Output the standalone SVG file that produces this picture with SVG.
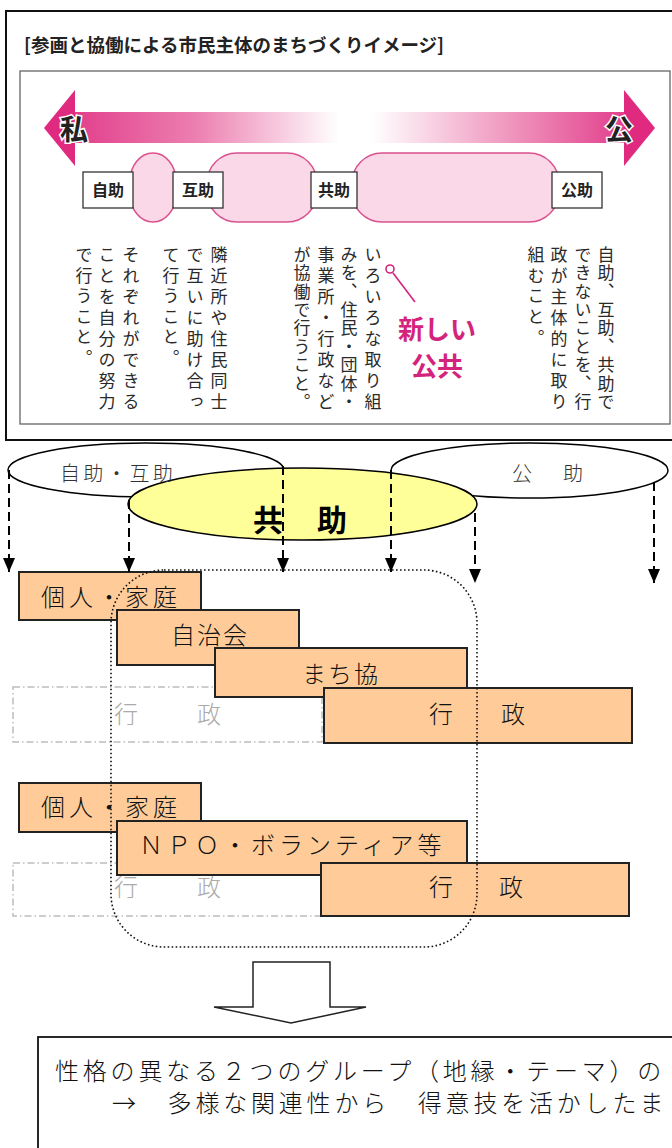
<svg xmlns="http://www.w3.org/2000/svg" width="672" height="1148" viewBox="0 0 672 1148">
<defs>
<style>
.jp{font-family:"Noto Sans CJK JP","Noto Sans CJK SC",sans-serif;}
.lbl{font-family:"Noto Sans CJK JP",sans-serif;font-weight:bold;font-size:16px;fill:#222;}
.vt{font-family:"Noto Sans CJK JP",sans-serif;font-size:17px;fill:#2a2a2a;writing-mode:vertical-rl;}
.pill{fill:#fbd8e7;stroke:#d9528e;stroke-width:1.5;}
.lb{fill:#fff;stroke:#333;stroke-width:1.3;}
.ell{fill:#fff;stroke:#000;stroke-width:1.5;}
.dash{stroke:#000;stroke-width:2;stroke-dasharray:9 5;fill:none;}
.box{fill:#ffcc99;stroke:#222;stroke-width:2;}
.ghost{fill:none;stroke:#bdbdbd;stroke-width:1.5;stroke-dasharray:7 3 1.5 3;}
.bt{font-family:"Noto Sans CJK JP",sans-serif;font-weight:300;font-size:24px;fill:#111;}
.gt{font-family:"Noto Sans CJK JP",sans-serif;font-weight:300;font-size:24px;fill:#aaa;}
</style>
<linearGradient id="bar" gradientUnits="userSpaceOnUse" x1="75" y1="0" x2="624" y2="0">
<stop offset="0" stop-color="#e2408c"/>
<stop offset="0.22" stop-color="#ec7fb0"/>
<stop offset="0.48" stop-color="#ffffff"/>
<stop offset="0.54" stop-color="#ffffff"/>
<stop offset="0.78" stop-color="#f09bc1"/>
<stop offset="1" stop-color="#e2408c"/>
</linearGradient>
<marker id="ah" viewBox="0 0 14 12" refX="14" refY="6" markerWidth="14" markerHeight="12" markerUnits="userSpaceOnUse" orient="auto">
<path d="M0,0 L14,6 L0,12 z" fill="#000"/>
</marker>
</defs>

<g id="image-panel">
<rect x="6" y="11" width="690" height="429" fill="#fff" stroke="#111" stroke-width="2"/>
<text class="jp" x="24" y="52" font-size="18.5" font-weight="bold" fill="#222">[参画と協働による市民主体のまちづくりイメージ]</text>
<rect x="20" y="71" width="650" height="353" fill="#fff" stroke="#666" stroke-width="1.3"/>
<rect x="74" y="112" width="551" height="31" fill="url(#bar)"/>
<polygon points="44,128 75,90 75,166" fill="#df2a80"/>
<polygon points="624,90 655,128 624,166" fill="#df2a80"/>
<text class="jp" x="74" y="140" font-size="28" font-weight="bold" fill="#222" stroke="#fff" stroke-width="3" paint-order="stroke" text-anchor="middle">私</text>
<text class="jp" x="619" y="140" font-size="28" font-weight="bold" fill="#222" stroke="#fff" stroke-width="3" paint-order="stroke" text-anchor="middle">公</text>
<rect class="pill" x="130" y="153" width="46" height="69" rx="23" ry="28"/>
<rect class="pill" x="207" y="153" width="110" height="69" rx="30" ry="30"/>
<rect class="pill" x="352" y="153" width="207" height="69" rx="30" ry="30"/>
<rect class="lb" x="83" y="172" width="50" height="36"/>
<text class="lbl" x="108" y="196" text-anchor="middle">自助</text>
<rect class="lb" x="173" y="172" width="50" height="36"/>
<text class="lbl" x="198" y="196" text-anchor="middle">互助</text>
<rect class="lb" x="311" y="172" width="46" height="36"/>
<text class="lbl" x="334" y="196" text-anchor="middle">共助</text>
<rect class="lb" x="552" y="172" width="50" height="36"/>
<text class="lbl" x="577" y="196" text-anchor="middle">公助</text>

<text class="vt" x="131" y="246" textLength="164" lengthAdjust="spacing">それぞれができる</text>
<text class="vt" x="107" y="246" textLength="164" lengthAdjust="spacing">ことを自分の努力</text>
<text class="vt" x="84" y="246" textLength="120" lengthAdjust="spacing">で行うこと。</text>
<text class="vt" x="219" y="246" textLength="164" lengthAdjust="spacing">隣近所や住民同士</text>
<text class="vt" x="195" y="246" textLength="164" lengthAdjust="spacing">で互いに助け合っ</text>
<text class="vt" x="171" y="246" textLength="120" lengthAdjust="spacing">て行うこと。</text>
<text class="vt" x="373" y="246" textLength="164" lengthAdjust="spacing">いろいろな取り組</text>
<text class="vt" x="349" y="246" textLength="164" lengthAdjust="spacing">みを、住民・団体・</text>
<text class="vt" x="326" y="246" textLength="164" lengthAdjust="spacing">事業所・行政など</text>
<text class="vt" x="302" y="246" textLength="164" lengthAdjust="spacing">が協働で行うこと。</text>
<text class="vt" x="606" y="246" textLength="164" lengthAdjust="spacing">自助、互助、共助で</text>
<text class="vt" x="583" y="246" textLength="164" lengthAdjust="spacing">できないことを、行</text>
<text class="vt" x="559" y="246" textLength="164" lengthAdjust="spacing">政が主体的に取り</text>
<text class="vt" x="536" y="246" textLength="100" lengthAdjust="spacing">組むこと。</text>

<line x1="393" y1="273" x2="415" y2="302" stroke="#d4237c" stroke-width="1.6"/>
<circle cx="390" cy="269" r="4" fill="#fff" stroke="#d4237c" stroke-width="1.6"/>
<text class="jp" x="437" y="339" font-size="26" font-weight="bold" fill="#d4237c" text-anchor="middle">新しい</text>
<text class="jp" x="437" y="376" font-size="26" font-weight="bold" fill="#d4237c" text-anchor="middle">公共</text>
</g>

<g id="node-jijo-gojo">
<ellipse class="ell" cx="146" cy="470" rx="138" ry="27"/>
</g>
<g id="node-kojo">
<ellipse class="ell" cx="529.5" cy="470.5" rx="138.5" ry="27.5"/>
</g>
<g id="node-kyojo">
<ellipse cx="302.5" cy="504" rx="174.5" ry="36" fill="#ffff99" stroke="#000" stroke-width="1.5"/>
</g>
<text class="jp" x="60" y="481" font-size="20" font-weight="300" fill="#333" letter-spacing="3.2">自助・互助</text>
<text class="jp" x="512" y="481" font-size="20" font-weight="300" fill="#333" letter-spacing="5.5">公　助</text>
<text class="jp" x="253" y="531" font-size="30" font-weight="bold" fill="#000" letter-spacing="2">共　助</text>

<g id="node-ghost-1">
<rect class="ghost" x="13" y="687" width="309" height="55"/>
<text class="gt" x="114" y="723" letter-spacing="17.5">行　政</text>
</g>
<g id="node-kojin-1">
<rect class="box" x="19" y="572" width="182" height="48"/>
<text class="bt" x="41" y="606" letter-spacing="4">個人・家庭</text>
</g>
<g id="node-jichikai">
<rect class="box" x="117" y="610" width="182" height="55"/>
<text class="bt" x="171" y="644" letter-spacing="2">自治会</text>
</g>
<g id="node-machikyo">
<rect class="box" x="215" y="648" width="252" height="49"/>
<text class="bt" x="302" y="683" letter-spacing="2">まち協</text>
</g>
<g id="node-gyosei-1">
<rect class="box" x="324" y="688" width="308" height="55"/>
<text class="bt" x="429" y="723" letter-spacing="12">行　政</text>
</g>

<g id="node-ghost-2">
<rect class="ghost" x="13" y="863" width="309" height="53"/>
<text class="gt" x="114" y="896" letter-spacing="17.5">行　政</text>
</g>
<g id="node-kojin-2">
<rect class="box" x="19" y="783" width="182" height="49"/>
<text class="bt" x="41" y="816" letter-spacing="4">個人・家庭</text>
</g>
<g id="node-npo">
<rect class="box" x="117" y="821" width="350" height="54"/>
<text class="bt" x="139" y="854" letter-spacing="4">ＮＰＯ・ボランティア等</text>
</g>
<g id="node-gyosei-2">
<rect class="box" x="321" y="863" width="308" height="53"/>
<text class="bt" x="429" y="896" letter-spacing="11">行　政</text>
</g>

<g id="connectors">
<line class="dash" x1="9" y1="470" x2="9" y2="572" marker-end="url(#ah)"/>
<line class="dash" x1="129" y1="500" x2="129" y2="572" marker-end="url(#ah)"/>
<line class="dash" x1="283" y1="466" x2="283" y2="572" marker-end="url(#ah)"/>
<line class="dash" x1="391" y1="470" x2="391" y2="572" marker-end="url(#ah)"/>
<line class="dash" x1="475" y1="513" x2="475" y2="583" marker-end="url(#ah)"/>
<line class="dash" x1="654" y1="482" x2="654" y2="583" marker-end="url(#ah)"/>
<rect x="111" y="570" width="366" height="377" rx="53" ry="53" fill="none" stroke="#111" stroke-width="1.6" stroke-dasharray="1.6 2.4"/>
<polygon points="253,962 330,962 330,1007 366,1007 291,1023 214,1007 253,1007" fill="#fff" stroke="#222" stroke-width="1.5"/>
</g>

<g id="node-summary">
<rect x="38" y="1037" width="660" height="140" fill="#fff" stroke="#111" stroke-width="1.8"/>
<text class="bt" x="55" y="1080" letter-spacing="3.8">性格の異なる２つのグループ（地縁・テーマ）の</text>
<text class="bt" x="112" y="1112" letter-spacing="3.8">→　多様な関連性から　得意技を活かしたま</text>
</g>
</svg>
